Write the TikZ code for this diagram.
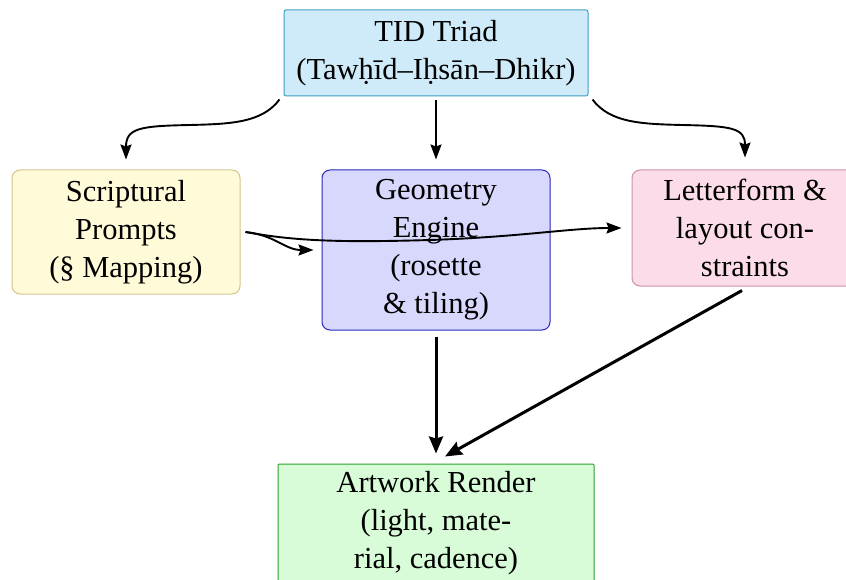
\documentclass[tikz,border=0pt]{standalone}
\usepackage{fontspec}
\setmainfont{Liberation Serif}
\usetikzlibrary{arrows.meta}

\definecolor{tidfill}{HTML}{CFEAF8}
\definecolor{tiddraw}{HTML}{3E9FC4}
\definecolor{scrfill}{HTML}{FFFAD8}
\definecolor{scrdraw}{HTML}{D2C68C}
\definecolor{geofill}{HTML}{D8D8FC}
\definecolor{geodraw}{HTML}{2A2AB8}
\definecolor{letfill}{HTML}{FBDCE8}
\definecolor{letdraw}{HTML}{D291AE}
\definecolor{artfill}{HTML}{D8FCD8}
\definecolor{artdraw}{HTML}{2CA02C}

\tikzset{
  box/.style={draw, line width=1pt, align=center, inner sep=0pt,
    font=\fontsize{30.5}{38}\selectfont},
  flow/.style={line width=1.9pt, -{Stealth[length=15pt,width=11pt,inset=2pt]}},
  heavy/.style={line width=3pt, -{Stealth[length=17pt,width=14pt,inset=2pt]}},
}

\begin{document}
\begin{tikzpicture}[x=1pt,y=-1pt]
\useasboundingbox (0,0) rectangle (846,580);

% boxes
\node[box, fill=tidfill, draw=tiddraw, rounded corners=2pt,
  minimum width=304pt, minimum height=86pt] (tid) at (436,53)
  {TID Triad\\(Tawḥīd–Iḥsān–Dhikr)};
\node[box, fill=scrfill, draw=scrdraw, rounded corners=8pt,
  minimum width=228pt, minimum height=124pt] (scr) at (126,232)
  {Scriptural\\Prompts\\(§ Mapping)};
\node[box, fill=geofill, draw=geodraw, rounded corners=8pt,
  minimum width=228pt, minimum height=160pt] (geo) at (436,250)
  {Geometry\\Engine\\(rosette\\\& tiling)};
\node[box, fill=letfill, draw=letdraw, rounded corners=8pt,
  minimum width=226pt, minimum height=116pt] (let) at (745,228)
  {Letterform \&\\layout con-\\straints};
\node[box, fill=artfill, draw=artdraw, rounded corners=1pt,
  minimum width=316pt, minimum height=118pt] (art) at (436,523)
  {Artwork Render\\(light, mate-\\rial, cadence)};

% connector end points
\coordinate (tl) at ([shift={(-4,3)}]tid.south west);
\coordinate (tr) at ([shift={(4,3)}]tid.south east);
\coordinate (sout) at ([shift={(5,0)}]scr.east);

% connectors from the triad
\draw[flow] (tl) .. controls (262,123) and (230,124) .. (190,125)
  .. controls (140,126) and (126,128) .. ([shift={(0,-10)}]scr.north);
\draw[flow] ([shift={(0,4)}]tid.south) -- ([shift={(0,-10)}]geo.north);
\draw[flow] (tr) .. controls (610,123) and (642,124) .. (682,125)
  .. controls (732,126) and (745,128) .. ([shift={(0,-12)}]let.north);

% connectors from the prompts
\draw[flow] (sout) .. controls (275,235) and (285,250) .. ([shift={(-8,0)}]geo.west);
\draw[flow] (sout) .. controls (290,240) and (330,243) .. (430,240)
  .. controls (520,237) and (570,228) .. ([shift={(-10,0)}]let.west);

% connectors into the render
\draw[heavy] ([shift={(0,6)}]geo.south) -- ([shift={(0,-10)}]art.north);
\draw[heavy] ([shift={(-3,4)}]let.south) -- ([shift={(9,-7)}]art.north);
\end{tikzpicture}
\end{document}
